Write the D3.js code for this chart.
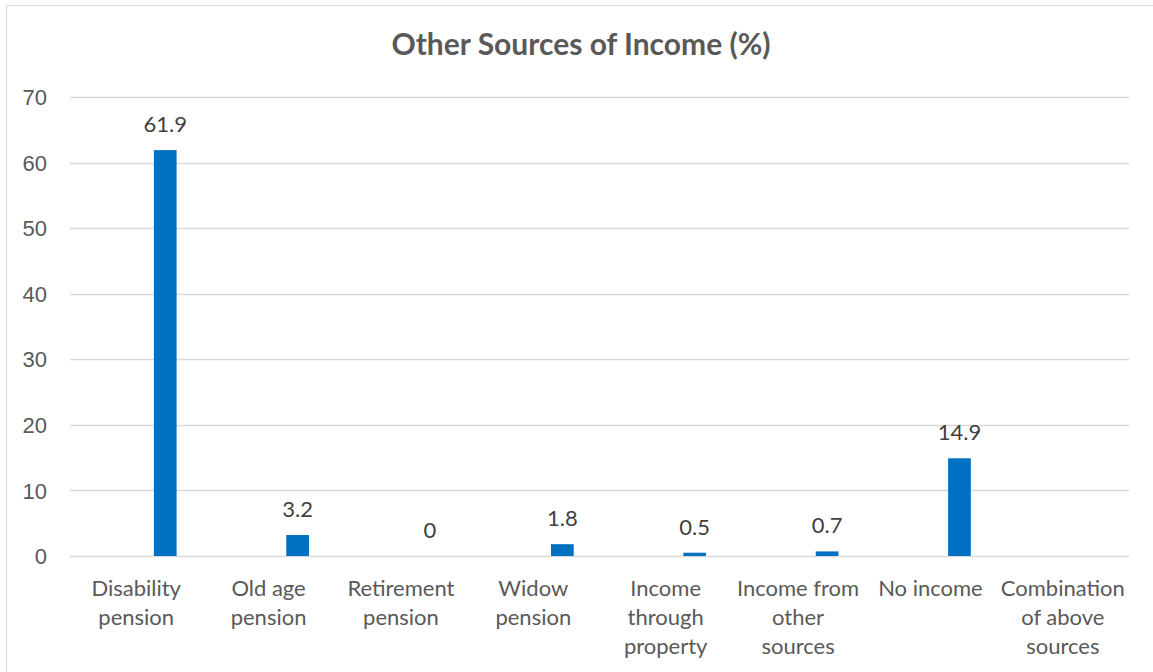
<!DOCTYPE html>
<html>
<head>
<meta charset="utf-8">
<script src="https://cdn.jsdelivr.net/npm/d3@7"></script>
<style>
  html, body { margin: 0; padding: 0; background: #fff; }
  svg { display: block; font-family: Lato, "Open Sans", sans-serif; }
</style>
</head>
<body>
<svg id="chart" width="1153" height="672"></svg>
<script>
// Other sources of income, percentage of respondents
const categories = [
  "Disability\npension",
  "Old age\npension",
  "Retirement\npension",
  "Widow\npension",
  "Income\nthrough\nproperty",
  "Income from\nother\nsources",
  "No income",
  "Combination\nof above\nsources"
];
const values = [61.9, 3.2, 0, 1.8, 0.5, 0.7, 14.9, null];
const yTicks = [0, 10, 20, 30, 40, 50, 60, 70];
// the chart is a two-slot cluster; only the second slot carries data
const seriesKeys = ["blank", "share"];

const svg = d3.select("#chart");
const W = 1153, H = 672;
const margin = { left: 70, right: 24, top: 97, bottom: 116 };

svg.append("rect")
  .attr("x", 6.5).attr("y", 5.5)
  .attr("width", W).attr("height", H)
  .attr("fill", "#fff").attr("stroke", "#d9d9d9").attr("stroke-width", 1);

const x = d3.scaleBand()
  .domain(d3.range(categories.length))
  .range([margin.left, W - margin.right])
  .paddingInner(0).paddingOuter(0);

const xInner = d3.scaleBand()
  .domain(seriesKeys)
  .range([0, x.bandwidth()])
  .paddingInner(0.609)
  .paddingOuter(0.444);

const y = d3.scaleLinear()
  .domain([0, 70])
  .range([H - margin.bottom, margin.top]);

// gridlines
svg.append("g")
  .selectAll("line")
  .data(yTicks)
  .join("line")
  .attr("x1", margin.left).attr("x2", W - margin.right)
  .attr("y1", d => Math.round(y(d)) + 0.5).attr("y2", d => Math.round(y(d)) + 0.5)
  .attr("stroke", "#d9d9d9").attr("stroke-width", 1.3);

// y axis labels
const yAxis = d3.axisLeft(y).tickValues(yTicks).tickSize(0).tickPadding(0);
const yg = svg.append("g")
  .attr("transform", `translate(${margin.left - 23},0)`)
  .call(yAxis);
yg.select(".domain").remove();
yg.selectAll("text")
  .attr("fill", "#595959")
  .style("font-size", "22px")
  .attr("dy", "0.35em");

// bars
const bars = categories.map((c, i) => ({ i, v: values[i] })).filter(d => d.v !== null);
svg.append("g")
  .selectAll("rect")
  .data(bars)
  .join("rect")
  .attr("x", d => x(d.i) + xInner("share"))
  .attr("width", xInner.bandwidth())
  .attr("y", d => y(d.v))
  .attr("height", d => y(0) - y(d.v))
  .attr("fill", "#0070c0");

// value labels
svg.append("g")
  .selectAll("text")
  .data(bars)
  .join("text")
  .attr("x", d => x(d.i) + xInner("share") + xInner.bandwidth() / 2)
  .attr("y", d => y(d.v) - 18)
  .attr("text-anchor", "middle")
  .attr("fill", "#404040")
  .style("font-size", "22px")
  .text(d => d.v);

// category labels
const cg = svg.append("g");
categories.forEach((c, i) => {
  const t = cg.append("text")
    .attr("x", x(i) + x.bandwidth() / 2)
    .attr("y", y(0) + 40)
    .attr("text-anchor", "middle")
    .attr("fill", "#595959")
    .style("font-size", "22px");
  c.split("\n").forEach((line, k) => {
    t.append("tspan")
      .attr("x", x(i) + x.bandwidth() / 2)
      .attr("dy", k === 0 ? 0 : 29)
      .text(line);
  });
});

// title
svg.append("text")
  .attr("x", 581)
  .attr("y", 55)
  .attr("text-anchor", "middle")
  .attr("fill", "#595959")
  .style("font-size", "30px")
  .style("font-weight", "bold")
  .text("Other Sources of Income (%)");
</script>
</body>
</html>
